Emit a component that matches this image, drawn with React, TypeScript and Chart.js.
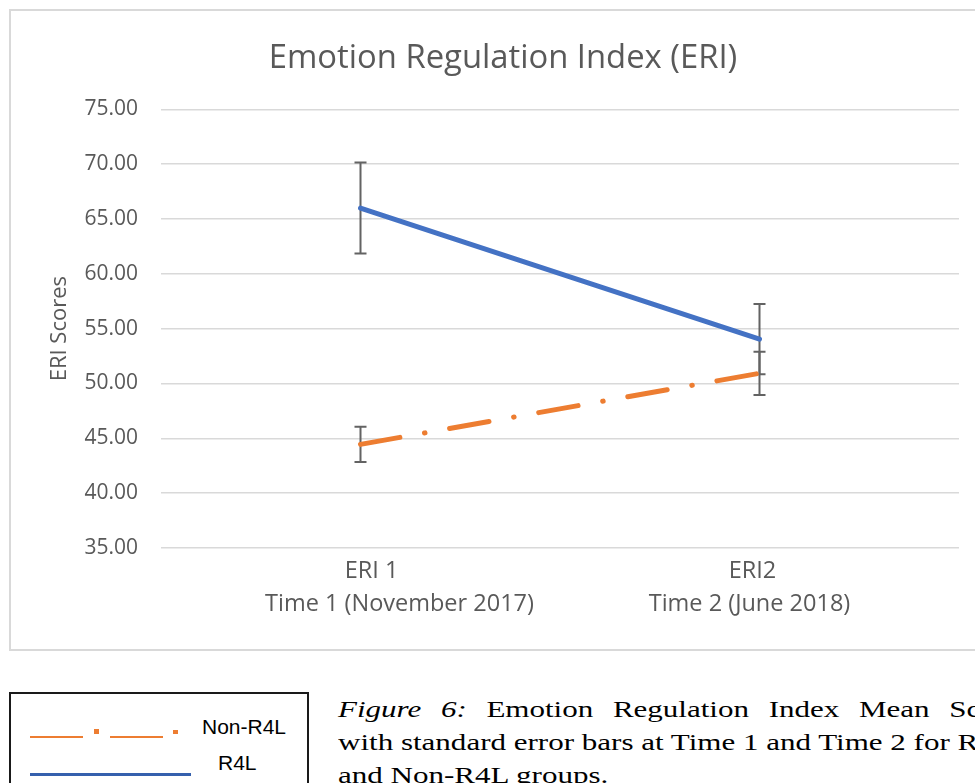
import React, { useEffect, useRef } from "react";
import { Chart, registerables } from "chart.js";

Chart.register(...registerables);

const categories: string[][] = [
  ["ERI 1", "Time 1 (November 2017)"],
  ["ERI2", "Time 2 (June 2018)"],
];
const r4lMeans: number[] = [66.0, 54.04];
const r4lErrors: number[] = [4.15, 3.2];
const nonR4lMeans: number[] = [44.45, 50.93];
const nonR4lErrors: number[] = [1.61, 1.97];
const yMin = 35;
const yMax = 75;
const yStep = 5;

const TEXT = "#595959";
const FONT = "'Open Sans', 'DejaVu Sans', sans-serif";

// horizontal nudges of each category label line (styling only)
const labelLineShift: number[][] = [
  [11, 39],
  [-7, -10],
];

const errorBarPlugin = {
  id: "errorBars",
  beforeDatasetsDraw(chart: any) {
    const ctx = chart.ctx;
    const x = chart.scales.x;
    const y = chart.scales.y;
    const sets = [
      { m: r4lMeans, e: r4lErrors },
      { m: nonR4lMeans, e: nonR4lErrors },
    ];
    ctx.save();
    ctx.strokeStyle = "#636363";
    ctx.lineWidth = 2;
    sets.forEach((s) => {
      s.m.forEach((v, i) => {
        const px = x.getPixelForValue(i);
        const top = y.getPixelForValue(v + s.e[i]);
        const bot = y.getPixelForValue(v - s.e[i]);
        ctx.beginPath();
        ctx.moveTo(px, top);
        ctx.lineTo(px, bot);
        ctx.moveTo(px - 6, top);
        ctx.lineTo(px + 6, top);
        ctx.moveTo(px - 6, bot);
        ctx.lineTo(px + 6, bot);
        ctx.stroke();
      });
    });
    ctx.restore();
  },
};

const categoryLabelPlugin = {
  id: "categoryLabels",
  afterDraw(chart: any) {
    const ctx = chart.ctx;
    const x = chart.scales.x;
    const base = chart.chartArea.bottom;
    ctx.save();
    ctx.fillStyle = TEXT;
    ctx.font = `23.5px ${FONT}`;
    ctx.textAlign = "center";
    ctx.textBaseline = "alphabetic";
    categories.forEach((lines, i) => {
      const px = x.getPixelForValue(i);
      lines.forEach((t, j) => {
        ctx.fillText(t, px + labelLineShift[i][j], base + 30 + j * 32.5);
      });
    });
    ctx.restore();
  },
};

function ChartBox() {
  const ref = useRef<HTMLCanvasElement | null>(null);
  useEffect(() => {
    if (!ref.current) return;
    const chart = new Chart(ref.current, {
      type: "line",
      data: {
        labels: categories,
        datasets: [
          {
            label: "R4L",
            data: r4lMeans,
            borderColor: "#4472C4",
            backgroundColor: "#4472C4",
            borderWidth: 5,
            borderCapStyle: "round",
            pointRadius: 0,
            tension: 0,
          },
          {
            label: "Non-R4L",
            data: nonR4lMeans,
            borderColor: "#ED7D31",
            backgroundColor: "#ED7D31",
            borderWidth: 5,
            borderCapStyle: "round",
            borderDash: [40, 25, 0.5, 25],
            pointRadius: 0,
            tension: 0,
          },
        ],
      },
      options: {
        responsive: false,
        animation: false,
        layout: { padding: { left: 36, right: 52, top: 0, bottom: 0 } },
        plugins: {
          legend: { display: false },
          tooltip: { enabled: false },
          title: {
            display: true,
            text: "Emotion Regulation Index (ERI)",
            color: TEXT,
            font: { family: FONT, size: 32.8, weight: "normal", lineHeight: 1.2 },
            padding: { top: 27.5, bottom: 31.5 },
          },
        },
        scales: {
          x: {
            type: "category",
            offset: true,
            grid: { display: false },
            border: { display: false },
            ticks: { display: false },
            afterFit(scale: any) {
              scale.height = 101;
            },
          },
          y: {
            min: yMin,
            max: yMax,
            grid: { color: "#d9d9d9", lineWidth: 1.5, drawTicks: false },
            border: { display: false },
            ticks: {
              stepSize: yStep,
              color: TEXT,
              font: { family: FONT, size: 21 },
              padding: 23,
              callback: (v: any) => Number(v).toFixed(2),
            },
            title: {
              display: true,
              text: "ERI Scores",
              color: TEXT,
              font: { family: FONT, size: 22, lineHeight: 1.2 },
              padding: 0,
            },
            afterFit(scale: any) {
              scale.width = 114;
            },
          },
        },
      },
      plugins: [errorBarPlugin, categoryLabelPlugin],
    } as any);
    return () => chart.destroy();
  }, []);
  return (
    <canvas
      ref={ref}
      width={1000}
      height={638}
      style={{ position: "absolute", left: 0, top: 0, width: 1000, height: 638 }}
    />
  );
}

const captionStyle: React.CSSProperties = {
  position: "absolute",
  left: 338,
  whiteSpace: "nowrap",
  fontFamily: "'Liberation Serif', 'Times New Roman', serif",
  fontSize: 23.5,
  lineHeight: "33px",
  color: "#000",
  transform: "scaleX(1.32)",
  transformOrigin: "left top",
};

export default function App() {
  return (
    <div
      style={{
        position: "fixed",
        left: 0,
        top: 0,
        width: 975,
        height: 783,
        overflow: "hidden",
        background: "#fff",
      }}
    >
      <div
        style={{
          position: "absolute",
          left: 9,
          top: 9,
          width: 1020,
          height: 642,
          border: "2px solid #d9d9d9",
          boxSizing: "border-box",
        }}
      >
        <ChartBox />
      </div>

      <div
        style={{
          position: "absolute",
          left: 9,
          top: 692,
          width: 300,
          height: 130,
          border: "2px solid #1a1a1a",
          boxSizing: "border-box",
        }}
      />
      <div style={{ position: "absolute", left: 30, top: 735.5, width: 53, height: 2.5, background: "#ED7D31" }} />
      <div style={{ position: "absolute", left: 94, top: 729, width: 5, height: 5, background: "#ED7D31" }} />
      <div style={{ position: "absolute", left: 110, top: 735.5, width: 53, height: 2.5, background: "#ED7D31" }} />
      <div style={{ position: "absolute", left: 173, top: 730, width: 4.5, height: 4, background: "#ED7D31" }} />
      <div style={{ position: "absolute", left: 30, top: 773, width: 161, height: 2.5, background: "#3560ad" }} />
      <div
        style={{
          position: "absolute",
          left: 202,
          top: 715,
          lineHeight: "24px",
          fontFamily: "'Liberation Sans', Arial, sans-serif",
          fontSize: 21,
          color: "#000",
          whiteSpace: "nowrap",
        }}
      >
        Non-R4L
      </div>
      <div
        style={{
          position: "absolute",
          left: 218,
          top: 751,
          lineHeight: "24px",
          fontFamily: "'Liberation Sans', Arial, sans-serif",
          fontSize: 21,
          color: "#000",
          whiteSpace: "nowrap",
        }}
      >
        R4L
      </div>

      <div style={{ ...captionStyle, top: 693, wordSpacing: 9 }}>
        <i>Figure 6:</i> Emotion Regulation Index Mean Scores of R4L
      </div>
      <div style={{ ...captionStyle, top: 726 }}>
        with standard error bars at Time 1 and Time 2 for R4L
      </div>
      <div style={{ ...captionStyle, top: 759 }}>and Non-R4L groups.</div>
    </div>
  );
}
